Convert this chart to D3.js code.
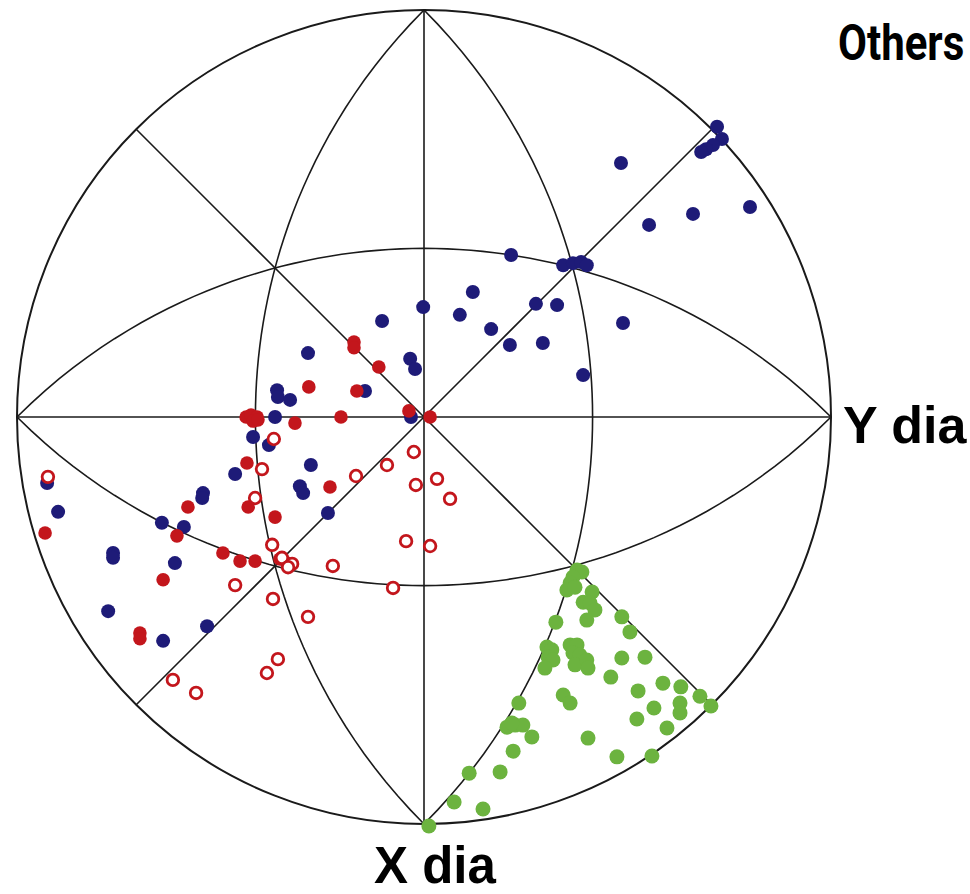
<!DOCTYPE html>
<html>
<head>
<meta charset="utf-8">
<script src="https://cdn.jsdelivr.net/npm/d3@7"></script>
<style>
  body { margin: 0; background: #fff; }
  svg { display: block; }
</style>
</head>
<body>
<script>
// positions are in % of the net radius, x to the right, y up (stereographic net)
var bluePts = [
  [72.0,71.3],[73.2,68.3],[71.0,66.8],[69.3,65.8],[68.1,65.1],[48.4,62.4],[80.1,51.6],[66.1,49.9],
  [55.3,47.2],[21.4,39.8],[34.2,37.3],[36.6,37.8],[38.6,38.1],[40.0,37.3],[12.0,30.7],[-0.2,27.0],
  [8.8,25.1],[16.5,21.6],[27.5,27.8],[32.7,27.5],[48.9,23.1],[21.1,17.7],[29.2,18.2],[39.1,10.3],
  [-10.3,23.6],[-28.5,15.7],[-3.4,14.3],[-2.2,11.8],[-36.1,6.6],[-35.9,4.9],[-32.9,4.2],[-14.5,6.4],
  [-36.6,0],[-3.2,0],[-42.0,-4.9],[-38.1,-6.9],[-27.8,-11.8],[-46.4,-14.0],[-54.3,-18.7],[-54.5,-19.9],
  [-30.5,-17.0],[-29.7,-18.7],[-23.6,-23.6],[-92.6,-16.2],[-89.9,-23.3],[-64.4,-26.0],[-59.0,-27.0],
  [-76.4,-33.4],[-76.4,-34.6],[-61.2,-35.9],[-77.6,-47.7],[-64.1,-55.0],[-53.3,-51.4]
];
var redFilled = [
  [-17.2,18.4],[-17.2,17.0],[-11.1,12.3],[-28.3,7.4],[-16.5,6.4],[-43.7,0],[-42.5,0.5],[-41.0,0],
  [-42.0,-1.0],[-40.8,-0.7],[-31.7,-1.5],[-20.4,0],[-3.7,1.5],[1.5,0],[-43.5,-11.3],[-58.0,-22.1],
  [-43.2,-22.1],[-36.6,-24.6],[-23.1,-17.2],[-60.7,-29.2],[-93.1,-28.5],[-49.4,-33.4],[-45.2,-35.4],
  [-41.5,-35.4],[-35.4,-34.9],[-33.7,-35.9],[-64.1,-40.0],[-69.8,-53.1],[-69.8,-54.5]
];
var redOpen = [
  [-92.4,-14.7],[-36.9,-5.4],[-39.8,-12.8],[-41.5,-19.9],[-16.7,-14.5],[-9.1,-11.8],[-2.5,-8.6],
  [-2.0,-16.7],[3.2,-15.2],[6.4,-20.1],[-37.3,-31.4],[-4.4,-30.5],[1.5,-31.7],[-34.9,-34.6],
  [-32.4,-36.1],[-33.4,-36.9],[-22.4,-36.6],[-7.6,-42.0],[-46.4,-41.3],[-37.1,-44.7],[-28.5,-49.1],
  [-35.9,-59.5],[-38.6,-62.9],[-61.7,-64.6],[-56.0,-67.8]
];
var greenPts = [
  [37.6,-37.6],[38.8,-38.1],[36.6,-39.3],[35.9,-40.8],[35.1,-42.5],[37.1,-41.8],[41.3,-43.0],
  [39.1,-45.5],[40.8,-45.7],[42.0,-47.4],[40.0,-49.9],[48.6,-49.1],[50.6,-52.8],[32.4,-50.4],
  [30.2,-56.5],[31.4,-57.2],[30.5,-59.0],[31.7,-59.7],[29.7,-61.7],[35.9,-56.0],[37.6,-56.0],
  [36.6,-58.0],[38.3,-58.5],[37.1,-60.9],[40.0,-59.7],[40.3,-61.7],[48.6,-59.2],[54.3,-59.0],
  [45.9,-63.9],[52.6,-67.3],[58.7,-65.4],[63.1,-66.3],[67.8,-68.6],[70.5,-71.0],[62.9,-70.3],
  [62.9,-72.7],[56.5,-71.5],[52.3,-74.2],[59.7,-76.4],[34.2,-68.3],[35.9,-70.3],[23.3,-70.3],
  [20.4,-76.2],[22.4,-75.7],[24.3,-75.7],[21.6,-75.2],[26.5,-78.6],[21.9,-82.1],[40.3,-78.9],
  [47.4,-83.5],[56.0,-83.3],[18.7,-87.2],[11.1,-87.5],[7.4,-94.6],[14.5,-96.3],[1.2,-100.5]
];
// net lines: meridians (longitudes) and the four {110} great circles
var meridians = [0, 45, 90, 135];
var tiltedCircles = [0, 90, 180, 270];

var W = 970, H = 894;
var cx = 424, cy = 417, R = 407;

var svg = d3.select("body").append("svg")
  .attr("width", W).attr("height", H)
  .style("background", "#fff");

var x = d3.scaleLinear().domain([-100, 100]).range([cx - R, cx + R]);
var y = d3.scaleLinear().domain([-100, 100]).range([cy + R, cy - R]);

// stereographic projection looking down on the pole
var proj = d3.geoStereographic()
  .scale(R)
  .translate([cx, cy])
  .rotate([0, -90, 0])
  .precision(0.1);
var path = d3.geoPath(proj);

var grid = svg.append("g")
  .attr("fill", "none")
  .attr("stroke", "#1a1a1a")
  .attr("stroke-width", 1.6);

grid.append("circle")
  .attr("cx", x(0)).attr("cy", y(0))
  .attr("r", x(100) - x(0))
  .attr("stroke-width", 2);

meridians.forEach(function(L){
  grid.append("path")
    .datum({type: "LineString", coordinates: [[L, 0], [L, 90], [L + 180, 0]]})
    .attr("d", path);
});
tiltedCircles.forEach(function(L){
  grid.append("path")
    .datum({type: "LineString", coordinates: [[L, 0], [L + 90, 45], [L + 180, 0]]})
    .attr("d", path);
});

// points
var dots = svg.append("g");

dots.selectAll(".blue").data(bluePts).enter().append("circle")
  .attr("class", "blue")
  .attr("cx", function(d){ return x(d[0]); })
  .attr("cy", function(d){ return y(d[1]); })
  .attr("r", 7)
  .attr("fill", "#1e1b78");

dots.selectAll(".redf").data(redFilled).enter().append("circle")
  .attr("class", "redf")
  .attr("cx", function(d){ return x(d[0]); })
  .attr("cy", function(d){ return y(d[1]); })
  .attr("r", 6.8)
  .attr("fill", "#c3161c");

dots.selectAll(".redo").data(redOpen).enter().append("circle")
  .attr("class", "redo")
  .attr("cx", function(d){ return x(d[0]); })
  .attr("cy", function(d){ return y(d[1]); })
  .attr("r", 5.8)
  .attr("fill", "#fff")
  .attr("stroke", "#c3161c")
  .attr("stroke-width", 2.8);

dots.selectAll(".green").data(greenPts).enter().append("circle")
  .attr("class", "green")
  .attr("cx", function(d){ return x(d[0]); })
  .attr("cy", function(d){ return y(d[1]); })
  .attr("r", 7.5)
  .attr("fill", "#6cb33f");

// labels
svg.append("text")
  .attr("x", 843).attr("y", 443)
  .style("font-family", "'Liberation Sans', Arial, sans-serif")
  .style("font-weight", "bold")
  .style("font-size", "52px")
  .attr("fill", "#000")
  .text("Y dia");

svg.append("text")
  .attr("x", 374).attr("y", 883)
  .style("font-family", "'Liberation Sans', Arial, sans-serif")
  .style("font-weight", "bold")
  .style("font-size", "51px")
  .attr("fill", "#000")
  .text("X dia");

// condensed look: squeeze the label horizontally
svg.append("text")
  .attr("transform", "translate(838,60) scale(0.84,1)")
  .style("font-family", "Roboto, sans-serif")
  .style("font-weight", "bold")
  .style("font-size", "50px")
  .attr("fill", "#000")
  .text("Others");
</script>
</body>
</html>
